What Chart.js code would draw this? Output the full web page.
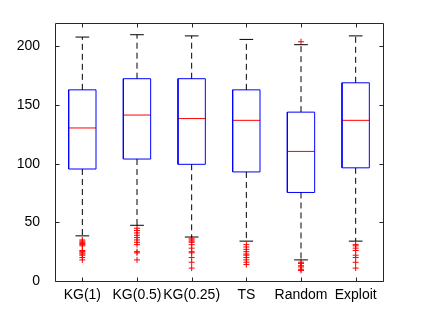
<!DOCTYPE html>
<html><head><meta charset="utf-8">
<script src="https://cdn.jsdelivr.net/npm/chart.js@4/dist/chart.umd.min.js"></script>
<style>html,body{margin:0;padding:0;background:#fff}</style>
</head><body>
<canvas id="c" width="423" height="317"></canvas>
<script>
const categories = ['KG(1)', 'KG(0.5)', 'KG(0.25)', 'TS', 'Random', 'Exploit'];
const lowerWhisker = [38.5, 47.5, 37.5, 34, 18, 34];
const q1 = [95.5, 104, 99.5, 93, 75.5, 96.5];
const median = [130.5, 141.5, 138.5, 137, 110.5, 137];
const q3 = [163, 172.5, 172.5, 163, 144, 169];
const upperWhisker = [208, 210, 209, 206, 201.5, 209];
const outliers = [
  [35, 34, 33, 32, 31, 30, 26, 25, 24, 23, 22, 20, 18],
  [45, 43, 41, 39, 37, 35, 33, 31, 25, 24, 18],
  [36, 35, 34, 33, 31, 28, 25, 24, 20, 16, 11],
  [31, 29, 27, 25, 23, 22, 20, 18, 16, 14],
  [204, 16, 15, 13, 12, 10, 9],
  [31, 30, 28, 26, 22, 20, 16, 11]
];
const yTicks = [0, 50, 100, 150, 200];

const BOX_HALF = 0.25, CAP_HALF = 0.125;
const AXIS = '#262626';
const datasets = [];
categories.forEach((c, i) => {
  const x = i + 1;
  const line = (data, color, dash) => datasets.push({
    data, showLine: true, borderColor: color, borderWidth: 1, borderDash: dash || [],
    pointRadius: 0, pointHoverRadius: 0, fill: false, tension: 0
  });
  line([{x, y: q3[i]}, {x, y: upperWhisker[i]}], '#000', [6, 4]);
  line([{x, y: q1[i]}, {x, y: lowerWhisker[i]}], '#000', [6, 4]);
  line([{x: x - CAP_HALF, y: upperWhisker[i]}, {x: x + CAP_HALF, y: upperWhisker[i]}], '#000');
  line([{x: x - CAP_HALF, y: lowerWhisker[i]}, {x: x + CAP_HALF, y: lowerWhisker[i]}], '#000');
  line([{x: x - BOX_HALF, y: q1[i]}, {x: x + BOX_HALF, y: q1[i]}, {x: x + BOX_HALF, y: q3[i]},
        {x: x - BOX_HALF, y: q3[i]}, {x: x - BOX_HALF, y: q1[i]}], '#0000ff');
  line([{x: x - BOX_HALF, y: median[i]}, {x: x + BOX_HALF, y: median[i]}], '#ff0000');
  datasets.push({
    data: outliers[i].map(v => ({x, y: v})), showLine: false,
    pointStyle: 'cross', pointRadius: 3, pointBorderColor: '#ff0000', pointBorderWidth: 1,
    pointBackgroundColor: '#ff0000'
  });
});

const frame = {
  id: 'frame',
  afterDraw(chart) {
    const {ctx, chartArea: a, scales} = chart;
    ctx.save();
    ctx.strokeStyle = AXIS; ctx.lineWidth = 1;
    ctx.beginPath();
    const L = Math.round(a.left) + 0.5, R = Math.round(a.right) + 0.5,
          T = Math.round(a.top) + 0.5, B = Math.round(a.bottom) + 0.5;
    ctx.rect(L, T, R - L, B - T);
    const tl = 4;
    yTicks.forEach(v => {
      const y = Math.round(scales.y.getPixelForValue(v)) + 0.5;
      ctx.moveTo(L, y); ctx.lineTo(L + tl, y);
      ctx.moveTo(R, y); ctx.lineTo(R - tl, y);
    });
    categories.forEach((c, i) => {
      const x = Math.round(scales.x.getPixelForValue(i + 1)) + 0.5;
      ctx.moveTo(x, B); ctx.lineTo(x, B - tl);
      ctx.moveTo(x, T); ctx.lineTo(x, T + tl);
    });
    ctx.stroke();
    ctx.restore();
  }
};

new Chart(document.getElementById('c'), {
  type: 'scatter',
  data: {datasets},
  options: {
    responsive: false, animation: false, devicePixelRatio: 1,
    layout: {padding: {left: 0, right: 40, top: 23, bottom: 0}},
    plugins: {legend: {display: false}, tooltip: {enabled: false}},
    scales: {
      x: {
        type: 'linear', min: 0.5, max: 6.5,
        afterBuildTicks: s => { s.ticks = categories.map((c, i) => ({value: i + 1})); },
        afterFit: s => { s.height = 36; },
        grid: {display: false}, border: {display: false},
        ticks: {autoSkip: false, maxRotation: 0, padding: -2, color: '#000',
          font: {family: 'Liberation Sans', size: 14},
          callback: v => categories[v - 1]}
      },
      y: {
        min: 0, max: 220,
        afterBuildTicks: s => { s.ticks = yTicks.map(v => ({value: v})); },
        afterFit: s => { s.width = 55; },
        grid: {display: false}, border: {display: false},
        ticks: {padding: 7, color: '#000', font: {family: 'Liberation Sans', size: 14}}
      }
    }
  },
  plugins: [frame]
});
</script>
</body></html>
